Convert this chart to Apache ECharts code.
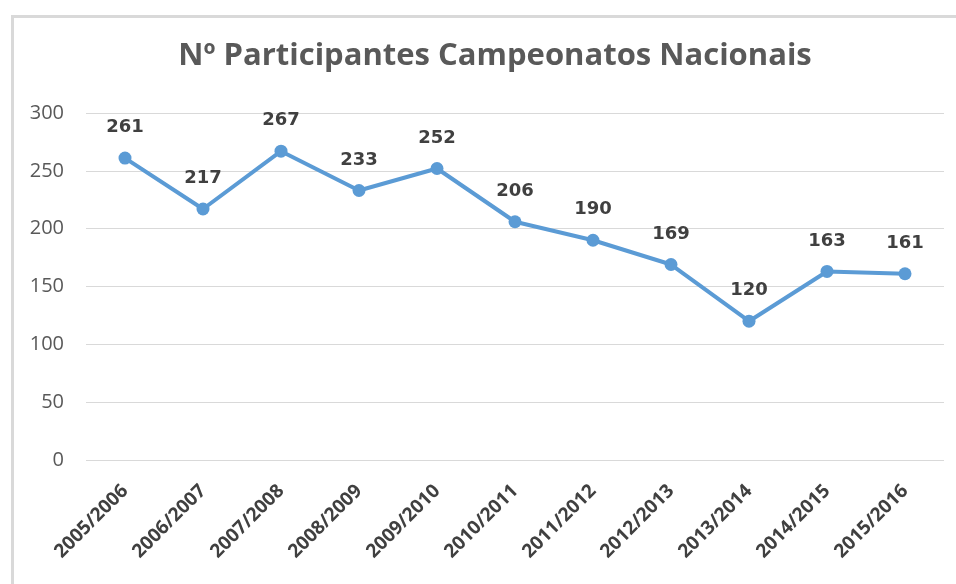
<!DOCTYPE html>
<html>
<head>
<meta charset="utf-8">
<script src="https://cdn.jsdelivr.net/npm/echarts@6/dist/echarts.min.js"></script>
<style>
html,body{margin:0;padding:0;background:#fff;}
#c{width:956px;height:584px;}
</style>
</head>
<body>
<div id="c"></div>
<script>
const titleText = 'Nº Participantes Campeonatos Nacionais';
const categories = ['2005/2006','2006/2007','2007/2008','2008/2009','2009/2010','2010/2011','2011/2012','2012/2013','2013/2014','2014/2015','2015/2016'];
const participants = [261,217,267,233,252,206,190,169,120,163,161];
const yTicks = {min:0, max:300, interval:50};

const chart = echarts.init(document.getElementById('c'));
chart.setOption({
  animation:false,
  backgroundColor:'#ffffff',
  graphic:[{
    type:'rect', left:10, top:14,
    shape:{x:0,y:0,width:960,height:590},
    style:{fill:'none', stroke:'#d9d9d9', lineWidth:3},
    silent:true, z:-1
  }],
  title:{
    text:titleText, left:490, textAlign:'center', top:36,
    textStyle:{fontFamily:'Open Sans', fontWeight:'bold', fontSize:31, color:'#595959'}
  },
  grid:{left:86, right:12, top:113, bottom:124},
  xAxis:{
    type:'category', data:categories, boundaryGap:true,
    axisLine:{show:false}, axisTick:{show:false},
    axisLabel:{rotate:45, fontFamily:'Open Sans', fontSize:19, color:'#404040', fontWeight:'bold', margin:28}
  },
  yAxis:{
    type:'value', min:yTicks.min, max:yTicks.max, interval:yTicks.interval,
    axisLine:{show:false}, axisTick:{show:false},
    axisLabel:{fontFamily:'Open Sans', fontSize:20, color:'#595959', margin:22},
    splitLine:{lineStyle:{color:'#d9d9d9', width:1}}
  },
  series:[{
    type:'line', data:participants,
    symbol:'circle', symbolSize:13,
    lineStyle:{color:'#5b9bd5', width:4},
    itemStyle:{color:'#5b9bd5'},
    label:{show:true, position:'top', distance:15, fontFamily:'DejaVu Sans', fontWeight:'bold', fontSize:18, color:'#404040'}
  }]
});
</script>
</body>
</html>
